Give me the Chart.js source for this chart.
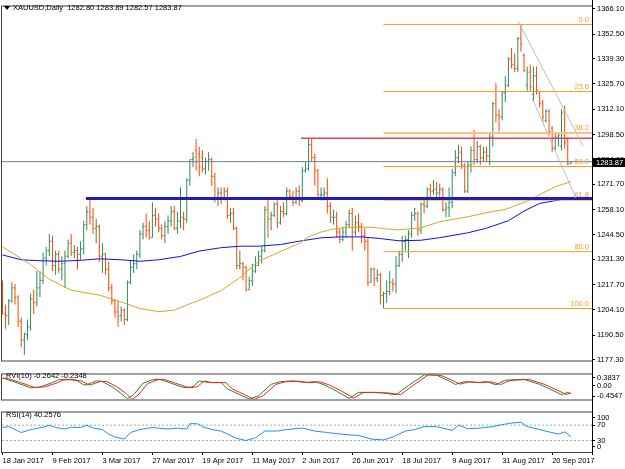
<!DOCTYPE html>
<html>
<head>
<meta charset="utf-8">
<title>XAUUSD Daily</title>
<script src="https://cdn.jsdelivr.net/npm/chart.js@4.4.1/dist/chart.umd.min.js"></script>
<style>
  html, body { margin: 0; padding: 0; background: #fff; }
  #wrap { position: relative; width: 625px; height: 469px; overflow: hidden; background: #fff; }
  #wrap canvas { position: absolute; left: 0; }
  .txt { position: absolute; font: 7.5px "Liberation Sans", Arial, sans-serif; line-height: 8px; color: #000; white-space: pre; }
</style>
</head>
<body>
<div id="wrap">
  <canvas id="main" width="625" height="367" style="top:0px"></canvas>
  <canvas id="rvi" width="625" height="38" style="top:368px"></canvas>
  <canvas id="rsi" width="625" height="63" style="top:406px"></canvas>
  <div style="position:absolute;left:592px;top:0;width:1px;height:455px;background:#000"></div>
  <div style="position:absolute;left:4px;top:6px;width:0;height:0;border-left:3px solid transparent;border-right:3px solid transparent;border-top:4px solid #000"></div>
  <div class="txt" id="title" style="left:13px;top:4px"></div>
  <div class="txt" id="rviTitle" style="left:6px;top:372px"></div>
  <div class="txt" id="rsiTitle" style="left:6px;top:411px"></div>
</div>
<script>
// ---------- data ----------
const symbol = 'XAUUSD', timeframe = 'Daily';
const dateLabels = ['18 Jan 2017', '9 Feb 2017', '3 Mar 2017', '27 Mar 2017', '19 Apr 2017', '11 May 2017',
  '2 Jun 2017', '26 Jun 2017', '18 Jul 2017', '9 Aug 2017', '31 Aug 2017', '20 Sep 2017'];
const labelStep = 16; // bars between two date labels

const barOpen = [
  1216,1202,1201,1209,1216,1211,1198,1188,1191,1195, 1210,1208,1216,1220,1232,1236,1241,1228,1234,1226,
  1229,1233,1240,1235,1236,1234,1237,1250,1257,1254, 1248,1249,1233,1234,1226,1216,1209,1203,1201,1204,
  1199,1219,1227,1229,1234,1245,1249,1247,1243,1255, 1253,1248,1244,1249,1252,1257,1248,1252,1254,1253,
  1274,1285,1290,1288,1286,1280,1284,1285,1276,1264, 1267,1264,1268,1255,1256,1248,1228,1229,1227,1215,
  1220,1225,1228,1233,1236,1258,1253,1255,1261,1251, 1257,1256,1268,1265,1262,1268,1263,1279,1280,1293,
  1286,1279,1266,1266,1267,1260,1254,1254,1246,1242, 1246,1250,1256,1246,1251,1249,1244,1241,1219,1226,
  1221,1223,1212,1213,1214,1219,1218,1228,1234,1241, 1242,1245,1255,1256,1247,1261,1260,1269,1268,1269,
  1267,1269,1258,1259,1262,1278,1286,1289,1282,1268, 1282,1290,1285,1292,1286,1289,1287,1297,1315,1309,
  1308,1321,1325,1339,1336,1334,1350,1341,1325,1332, 1320,1330,1321,1316,1306,1311,1302,1291,1297,1292,
  1311,1296,1282.80];
const barHigh = [
  1220,1207,1210,1219,1218,1212,1200,1192,1199,1213, 1215,1225,1225,1235,1238,1245,1244,1236,1236,1233,
  1236,1242,1245,1239,1238,1241,1252,1260,1264,1259, 1253,1250,1240,1235,1230,1218,1210,1209,1206,1205,
  1220,1231,1234,1236,1247,1251,1256,1252,1262,1259, 1256,1250,1252,1255,1260,1260,1257,1270,1257,1275,
  1285,1289,1296,1292,1290,1286,1289,1286,1278,1270, 1270,1270,1270,1259,1259,1249,1236,1230,1228,1222,
  1229,1233,1236,1238,1260,1264,1257,1262,1263,1260, 1262,1270,1269,1268,1270,1271,1281,1284,1296,1296,
  1288,1280,1270,1270,1275,1262,1258,1257,1248,1249, 1252,1258,1259,1255,1256,1251,1248,1243,1227,1227,
  1226,1224,1214,1220,1225,1221,1233,1236,1244,1244, 1247,1257,1259,1257,1262,1264,1270,1272,1274,1273,
  1272,1270,1262,1270,1280,1290,1293,1292,1283,1284, 1292,1301,1295,1293,1292,1292,1299,1316,1326,1312,
  1322,1330,1340,1345,1342,1351,1357.6,1342,1335,1336, 1335,1335,1321,1317,1312,1312,1303,1299,1299,1312,
  1314,1297,1283.89];
const barLow = [
  1202,1194,1196,1208,1207,1195,1184,1180,1188,1193, 1202,1206,1211,1218,1228,1233,1225,1223,1224,1220,
  1216,1232,1233,1232,1226,1231,1234,1247,1250,1245, 1240,1230,1224,1223,1214,1207,1200,1195,1198,1196,
  1198,1218,1224,1226,1232,1242,1243,1242,1243,1249, 1246,1242,1240,1245,1249,1247,1245,1248,1247,1251,
  1271,1281,1279,1276,1278,1277,1279,1271,1262,1260, 1261,1263,1253,1251,1247,1226,1226,1220,1214,1215,
  1217,1224,1228,1229,1235,1243,1247,1254,1248,1250, 1254,1255,1263,1260,1261,1260,1262,1278,1279,1284,
  1271,1265,1263,1263,1256,1251,1250,1243,1240,1241, 1243,1248,1236,1244,1246,1240,1236,1217,1219,1217,
  1219,1207,1204.9,1208,1212,1214,1213,1227,1230,1236, 1232,1243,1252,1244,1245,1256,1259,1264,1266,1265,
  1265,1257,1254,1254,1259,1276,1283,1280,1267,1267, 1278,1282,1283,1282,1284,1284,1282,1292,1305,1300,
  1306,1316,1324,1334,1332,1332,1343,1332,1322,1322, 1316,1320,1313,1305,1305,1298,1289,1290,1292,1290,
  1291,1282,1282.57];
const barClose = [
  1202,1201,1209,1216,1211,1198,1188,1191,1195,1210, 1208,1216,1220,1232,1236,1241,1228,1234,1226,1229,
  1233,1240,1235,1236,1234,1237,1250,1257,1254,1248, 1249,1233,1234,1226,1216,1209,1203,1201,1204,1199,
  1219,1227,1229,1234,1245,1249,1247,1243,1255,1253, 1248,1244,1249,1252,1257,1248,1252,1254,1253,1274,
  1285,1286,1284,1281,1280,1284,1285,1276,1264,1267, 1264,1268,1255,1256,1248,1228,1229,1227,1215,1220,
  1225,1228,1233,1236,1258,1253,1255,1261,1251,1257, 1256,1268,1265,1262,1268,1263,1279,1280,1293,1286,
  1279,1266,1266,1267,1260,1254,1254,1246,1242,1246, 1250,1256,1246,1251,1249,1244,1241,1219,1226,1221,
  1223,1212,1213,1214,1219,1218,1228,1234,1241,1242, 1245,1255,1256,1247,1261,1260,1269,1268,1269,1267,
  1269,1258,1259,1262,1278,1286,1289,1282,1268,1282, 1290,1285,1292,1286,1289,1287,1297,1315,1309,1308,
  1321,1325,1339,1336,1334,1350,1347,1333,1332,1324, 1330,1322,1315,1308,1311,1300,1291,1297,1298,1310,
  1294,1282.80,1283.87];

const priceTicks = [1366.10, 1352.50, 1339.30, 1325.70, 1312.10, 1298.50, 1284.90, 1271.70,
  1258.10, 1244.50, 1231.30, 1217.70, 1204.10, 1190.50, 1177.30];

// moving averages (bar index -> value)
const sma100At = [0, 9, 15, 22, 31, 38, 44, 50, 55, 60, 63, 70, 76, 82, 89, 95, 98, 102, 106, 111, 118, 123, 127, 134, 140, 149, 155, 161, 168, 172, 177, 182];
const sma100 = [1238.1, 1228.5, 1220.6, 1214.7, 1212.1, 1208.4, 1204.9, 1203.2, 1204.0, 1207.5, 1209.3, 1214.5, 1221.5, 1230.3, 1235.5, 1239.9, 1243.4, 1246.0, 1247.7, 1248.6, 1248.6, 1247.7, 1247.2, 1248.3, 1251.6, 1254.2, 1256.5, 1258.2, 1262.6, 1266.1, 1270.4, 1273.1];
const sma200At = [0, 6, 12, 18, 25, 31, 38, 44, 50, 57, 63, 70, 76, 82, 89, 95, 102, 108, 115, 121, 127, 134, 140, 149, 155, 162, 167, 172, 176, 179, 182];
const sma200 = [1233.7, 1231.1, 1230.6, 1230.3, 1230.8, 1231.6, 1231.1, 1230.3, 1231.1, 1232.9, 1235.8, 1237.6, 1238.4, 1238.4, 1239.3, 1241.1, 1242.9, 1243.4, 1243.4, 1242.5, 1241.3, 1241.6, 1243.0, 1245.6, 1248.1, 1252.1, 1257.3, 1261.4, 1262.6, 1263.5, 1263.7];

// drawing objects
const fibLow = 1204.9, fibHigh = 1357.6, fibFrom = 122;
const fibRatios = [0, 23.6, 38.2, 50, 61.8, 80, 100];
const resistance = 1296.5, resistanceFrom = 95.6;
const support = 1264.0, supportFrom = 26.7;
const channelUpper = [[165.1, 1359.4], [185.9, 1292.4]];
const channelLower = [[169.6, 1317.9], [183.6, 1264.3]];

// RVI(10)
const rviAt = [0, 4, 9, 12, 16, 18, 21, 24, 26, 27, 30, 32, 35, 38, 40, 42, 45, 48, 50, 53, 57, 59, 61, 63, 66, 70, 72, 76, 79, 82, 86, 89, 93, 97, 100, 103, 107, 111, 114, 118, 122, 126, 130, 135, 139, 143, 145, 148, 152, 155, 158, 161, 167, 172, 176, 179, 181, 182];
const rviMain = [0.268, 0.130, -0.063, -0.039, 0.114, 0.207, 0.222, 0.168, 0.038, 0.038, 0.168, 0.145, -0.024, -0.255, -0.430, -0.293, 0.091, 0.207, 0.230, 0.130, -0.024, -0.063, -0.024, 0.168, 0.114, 0.114, -0.101, -0.293, -0.440, -0.332, 0.053, 0.145, 0.168, 0.114, 0.145, 0.038, -0.178, -0.420, -0.216, -0.216, -0.239, -0.293, 0.015, 0.370, 0.360, 0.168, 0.053, 0.145, 0.114, 0.145, 0.038, 0.191, 0.222, 0.053, -0.139, -0.293, -0.216, -0.2642];
const rviSigAt = [0, 1.5, 5.5, 10.5, 13.5, 17.5, 19.5, 22.5, 25.5, 27.5, 28.5, 31.5, 33.5, 36.5, 39.5, 41.5, 43.5, 46.5, 49.5, 51.5, 54.5, 58.5, 60.5, 62.5, 64.5, 67.5, 71.5, 73.5, 77.5, 80.5, 83.5, 87.5, 90.5, 94.5, 98.5, 101.5, 104.5, 108.5, 112.5, 115.5, 119.5, 123.5, 127.5, 131.5, 136.5, 140.5, 144.5, 146.5, 149.5, 153.5, 156.5, 159.5, 162.5, 168.5, 173.5, 177.5, 180.5, 182];
const rviSignal = [0.26, 0.250, 0.120, -0.055, -0.030, 0.105, 0.200, 0.215, 0.160, 0.045, 0.045, 0.160, 0.140, -0.020, -0.245, -0.4547, -0.300, 0.080, 0.200, 0.225, 0.125, -0.020, -0.060, -0.020, 0.160, 0.110, 0.110, -0.095, -0.290, -0.4547, -0.325, 0.050, 0.140, 0.160, 0.110, 0.140, 0.040, -0.170, -0.410, -0.220, -0.215, -0.235, -0.290, 0.020, 0.3837, 0.350, 0.165, 0.060, 0.140, 0.110, 0.140, 0.045, 0.185, 0.220, 0.055, -0.135, -0.285, -0.2348];
const rviRange = [-0.4547, 0.3837];
const rviAxis = [0.3837, 0, -0.4547];

// RSI(14)
const rsiAt = [0, 2, 4, 6, 9, 13, 15, 17, 20, 22, 25, 27, 29, 32, 34, 36, 39, 41, 44, 48, 50, 53, 56, 59, 60, 62, 63, 64, 67, 70, 72, 75, 78, 81, 84, 88, 91, 96, 100, 104, 108, 111, 114, 118, 122, 125, 129, 132, 135, 139, 141, 144, 146, 149, 153, 157, 160, 163, 166, 168, 172, 175, 178, 180, 182];
const rsiValues = [63.8, 66.2, 58.5, 50.8, 58.5, 64.6, 70.0, 63.8, 60.0, 64.6, 63.8, 70.0, 62.3, 58.5, 46.9, 39.2, 33.8, 50.8, 58.5, 63.8, 62.3, 60.0, 62.3, 60.0, 73.8, 73.8, 72.3, 66.2, 58.5, 54.6, 46.9, 35.4, 30.0, 36.9, 54.6, 54.6, 58.5, 62.3, 54.6, 50.8, 46.9, 44.6, 43.1, 33.8, 31.5, 39.2, 54.6, 58.5, 66.2, 66.2, 62.3, 56.2, 70.0, 60.8, 62.3, 66.2, 71.5, 75.4, 77.7, 66.2, 58.5, 52.3, 46.9, 52.3, 40.2576];
const rsiLevels = [70, 30];
const rsiAxis = [100, 70, 30, 0];

// ---------- layout ----------
const X_MIN = -0.16, X_MAX = 188.76;          // bar index range across the plot width
const PRICE_MIN = 1176.93, PRICE_MAX = 1367.31;
const FONT = { family: '"Liberation Sans", Arial, sans-serif', size: 7.5 };
const BULL = '#2E8B57', BEAR = '#FF4500';

const n = barClose.length;
const fibPrice = r => fibHigh - r / 100 * (fibHigh - fibLow);
const pairs = (xs, ys) => xs.map((x, i) => ({ x, y: ys[i] }));

document.getElementById('title').textContent =
  `${symbol},${timeframe}  ${barOpen[n - 1].toFixed(2)} ${barHigh[n - 1].toFixed(2)} ${barLow[n - 1].toFixed(2)} ${barClose[n - 1].toFixed(2)}`;
document.getElementById('rviTitle').textContent =
  `RVI(10) ${rviMain[rviMain.length - 1].toFixed(4)} ${rviSignal[rviSignal.length - 1].toFixed(4)}`;
document.getElementById('rsiTitle').textContent = `RSI(14) ${rsiValues[rsiValues.length - 1].toFixed(4)}`;

// one line dataset draws all bars of one colour: high-low stroke + open/close ticks
function ohlcPoints(up) {
  const pts = [];
  for (let i = 0; i < n; i++) {
    if ((barClose[i] >= barOpen[i]) !== up) continue;
    pts.push({ x: i, y: barLow[i] }, { x: i, y: barHigh[i] }, { x: i, y: null },
      { x: i - 0.4, y: barOpen[i] }, { x: i, y: barOpen[i] }, { x: i, y: null },
      { x: i, y: barClose[i] }, { x: i + 0.4, y: barClose[i] }, { x: i, y: null });
  }
  return pts;
}

const line = (data, color, width, extra) => Object.assign({
  data, borderColor: color, borderWidth: width, pointRadius: 0, fill: false, tension: 0
}, extra || {});
const hline = (from, y, color, width, extra) => line([{ x: from, y }, { x: X_MAX, y }], color, width, extra);

const framePlugin = {
  id: 'frame',
  afterDraw(chart) {
    const { ctx, chartArea: a } = chart;
    ctx.save();
    ctx.strokeStyle = '#444';
    ctx.lineWidth = 1;
    ctx.strokeRect(a.left - 0.5, a.top - 0.5, a.right - a.left + 1, a.bottom - a.top + 1);
    ctx.restore();
  }
};

const fibTextPlugin = {
  id: 'fibText',
  afterDatasetsDraw(chart) {
    const { ctx, chartArea: a } = chart, y = chart.scales.y;
    ctx.save();
    ctx.font = `${FONT.size}px ${FONT.family}`;
    ctx.fillStyle = '#FF9A2A';
    ctx.textAlign = 'right';
    ctx.textBaseline = 'bottom';
    fibRatios.forEach(r => ctx.fillText(r.toFixed(1), a.right - 3, y.getPixelForValue(fibPrice(r)) - 1));
    ctx.restore();
  }
};

const priceTagPlugin = {
  id: 'priceTag',
  afterDraw(chart) {
    const { ctx, chartArea: a } = chart;
    const last = barClose[n - 1];
    const py = Math.round(chart.scales.y.getPixelForValue(last));
    ctx.save();
    ctx.fillStyle = '#000';
    ctx.fillRect(a.right, py - 4, chart.width - a.right, 9);
    ctx.fillStyle = '#fff';
    ctx.font = `${FONT.size}px ${FONT.family}`;
    ctx.textBaseline = 'middle';
    ctx.fillText(last.toFixed(2), a.right + 4, py + 0.5);
    ctx.restore();
  }
};

const xHidden = { type: 'linear', bounds: 'data', min: X_MIN, max: X_MAX, display: false };

function rightAxis(min, max, values, labels, inset) {
  return {
    position: 'right', bounds: 'data', min, max,
    afterFit: s => { s.width = 33; },
    afterBuildTicks: s => {
      const lo = min + inset * (max - min), hi = max - inset * (max - min);
      s.ticks = values.map(v => ({ value: Math.min(Math.max(v, lo), hi) }));
    },
    ticks: { autoSkip: false, padding: 2, color: '#000', font: FONT, callback: (v, i) => labels[i] },
    grid: { drawOnChartArea: false, tickLength: 3, color: '#000' },
    border: { color: '#000' }
  };
}

const common = {
  responsive: false, animation: false, events: [],
  plugins: { legend: { display: false }, tooltip: { enabled: false } }
};

// ---------- main price panel ----------
const fibSets = fibRatios.map(r => r === 38.2
  ? hline(fibFrom, fibPrice(r), '#FFC27A', 2)
  : hline(fibFrom, fibPrice(r), '#FF9A1F', 1));

new Chart(document.getElementById('main'), {
  type: 'line',
  data: {
    datasets: [
      line(pairs(channelUpper.map(p => p[0]), channelUpper.map(p => p[1])), '#BDBDBD', 1),
      line(pairs(channelLower.map(p => p[0]), channelLower.map(p => p[1])), '#BDBDBD', 1),
      hline(X_MIN, barClose[n - 1], '#708090', 1),
      hline(resistanceFrom, resistance, '#E8404C', 1.5),
      hline(supportFrom, support, '#1E1EB4', 3),
      ...fibSets,
      line(pairs(sma100At, sma100), '#DAA520', 1),
      line(pairs(sma200At, sma200), '#1010E8', 1),
      line(ohlcPoints(true), BULL, 1, { spanGaps: false }),
      line(ohlcPoints(false), BEAR, 1, { spanGaps: false })
    ]
  },
  options: Object.assign({}, common, {
    layout: { padding: { left: 2, top: 2, right: 0, bottom: 2 } },
    scales: {
      x: xHidden,
      y: rightAxis(PRICE_MIN, PRICE_MAX, priceTicks, priceTicks.map(v => v.toFixed(2)), 0)
    }
  }),
  plugins: [framePlugin, fibTextPlugin, priceTagPlugin]
});

// ---------- RVI panel ----------
new Chart(document.getElementById('rvi'), {
  type: 'line',
  data: {
    datasets: [
      line(pairs(rviSigAt, rviSignal), '#FF2020', 1),
      line(pairs(rviAt, rviMain), '#1E8C1E', 1)
    ]
  },
  options: Object.assign({}, common, {
    layout: { padding: { left: 2, top: 2, right: 0, bottom: 2 } },
    scales: {
      x: xHidden,
      y: rightAxis(rviRange[0], rviRange[1], rviAxis, rviAxis.map(v => v === 0 ? '0.00' : v.toFixed(4)), 0.13)
    }
  }),
  plugins: [framePlugin]
});

// ---------- RSI panel ----------
new Chart(document.getElementById('rsi'), {
  type: 'line',
  data: {
    datasets: [
      line(pairs(rsiAt, rsiValues), '#1E90FF', 1),
      ...rsiLevels.map(v => hline(X_MIN, v, '#A8A8A8', 1, { borderDash: [2, 2] }))
    ]
  },
  options: Object.assign({}, common, {
    layout: { padding: { left: 2, top: 1, right: 0, bottom: 0 } },
    scales: {
      x: {
        type: 'linear', bounds: 'data', min: X_MIN, max: X_MAX, position: 'bottom',
        afterFit: s => { s.height = 17; },
        afterBuildTicks: s => { s.ticks = dateLabels.map((d, k) => ({ value: k * labelStep })); },
        ticks: { autoSkip: false, maxRotation: 0, align: 'start', padding: 1, color: '#000', font: FONT,
          callback: (v, i) => dateLabels[i] },
        grid: { drawOnChartArea: false, tickLength: 3, color: '#000' },
        border: { color: '#000' }
      },
      y: rightAxis(0, 103, rsiAxis, rsiAxis.map(String), 0.13)
    }
  }),
  plugins: [framePlugin]
});
</script>
</body>
</html>
